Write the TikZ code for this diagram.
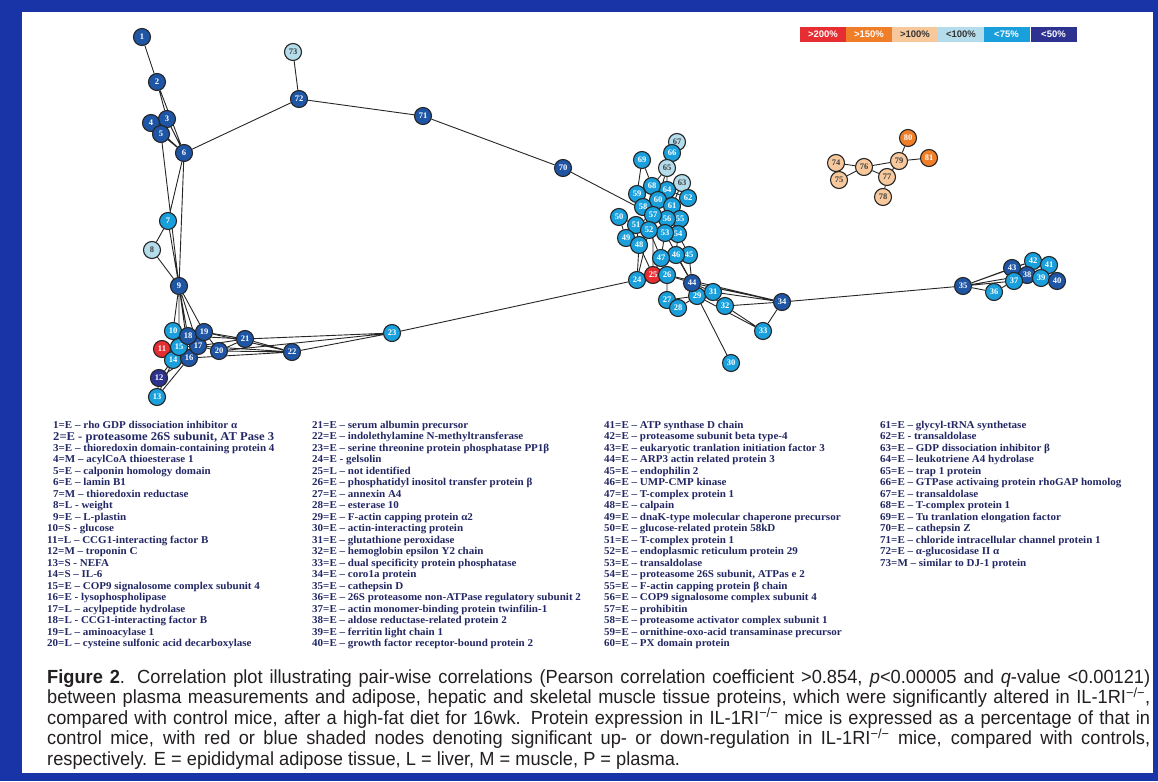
\documentclass[tikz,border=0pt]{standalone}
\usepackage{amsmath, latexsym}
\usepackage{fontspec}
\setmainfont{Liberation Serif}
\setsansfont{Liberation Sans}
\newfontfamily\capfont[FakeStretch=0.96]{Liberation Sans}
\newfontfamily\listfont[FakeStretch=1.05]{Liberation Serif}
\usepackage{tikz}
\usetikzlibrary{backgrounds}

\definecolor{frameblue}{RGB}{24,52,166}
\definecolor{pcttwohundred}{RGB}{230,45,50}
\definecolor{pctonefifty}{RGB}{240,125,40}
\definecolor{pctupper}{RGB}{246,200,155}
\definecolor{pctlower}{RGB}{180,220,235}
\definecolor{pctseventyfive}{RGB}{25,160,220}
\definecolor{pctfifty}{RGB}{45,50,145}
\definecolor{nodeblue}{RGB}{30,85,165}
\definecolor{listnavy}{RGB}{35,40,100}
\definecolor{captext}{RGB}{35,31,32}

\begin{document}
\begin{tikzpicture}[x=1pt, y=-1pt,
    prot/.style={circle, draw=black!85, line width=1.1pt, inner sep=0pt, minimum size=17pt,
        font=\fontsize{8.5}{8.5}\selectfont\bfseries, text=white},
    up200/.style={prot, fill=pcttwohundred},
    up150/.style={prot, fill=pctonefifty},
    up100/.style={prot, fill=pctupper, text=black!75},
    dn100/.style={prot, fill=pctlower, text=black!75},
    dn75/.style={prot, fill=pctseventyfive},
    dn50/.style={prot, fill=nodeblue},
    dn50navy/.style={prot, fill=pctfifty},
    link/.style={black!85, line width=0.9pt},
    legbox/.style={minimum width=46pt, minimum height=15pt, inner sep=0pt,
        font=\fontsize{9.5}{9.5}\selectfont\sffamily\bfseries, text=white},
    entry/.style={anchor=base west, inner sep=0pt,
        font=\listfont\fontsize{10.5}{10.5}\selectfont\bfseries, text=listnavy},
    capline/.style={anchor=base west, inner sep=0pt,
        font=\capfont\fontsize{19}{19}\selectfont, text=captext}]
    \useasboundingbox (0,0) rectangle (1158,781);

    \node[legbox, fill=pcttwohundred] (l1) at (823, 34.5) {>200\%};
    \node[legbox, fill=pctonefifty] (l2) at (869, 34.5) {>150\%};
    \node[legbox, fill=pctupper, text=black!80] (l3) at (915, 34.5) {>100\%};
    \node[legbox, fill=pctlower, text=black!80] (l4) at (961, 34.5) {<100\%};
    \node[legbox, fill=pctseventyfive] (l5) at (1006.5, 34.5) {<75\%};
    \node[legbox, fill=pctfifty] (l6) at (1053.5, 34.5) {<50\%};

    \node[dn50] (n1) at (142, 37) {1};
    \node[dn50] (n2) at (157, 82) {2};
    \node[dn50] (n3) at (167, 119) {3};
    \node[dn50] (n4) at (151, 123) {4};
    \node[dn50] (n5) at (161, 134) {5};
    \node[dn50] (n6) at (184, 153) {6};
    \node[dn75] (n7) at (168, 221) {7};
    \node[dn100] (n8) at (152, 250) {8};
    \node[dn50] (n9) at (179, 286) {9};
    \node[dn75] (n10) at (173, 331) {10};
    \node[up200] (n11) at (162, 349) {11};
    \node[dn50navy] (n12) at (159, 378) {12};
    \node[dn75] (n13) at (157, 397) {13};
    \node[dn75] (n14) at (173, 360) {14};
    \node[dn50] (n16) at (189, 358) {16};
    \node[dn75] (n15) at (179, 347) {15};
    \node[dn50] (n17) at (198, 346) {17};
    \node[dn50] (n18) at (188, 336) {18};
    \node[dn50] (n19) at (204, 332) {19};
    \node[dn50] (n20) at (219, 351) {20};
    \node[dn50] (n21) at (245, 339) {21};
    \node[dn50] (n22) at (292, 352) {22};
    \node[dn75] (n23) at (392, 333) {23};
    \node[dn75] (n24) at (637, 280) {24};
    \node[up200] (n25) at (653, 275) {25};
    \node[dn75] (n26) at (667, 275) {26};
    \node[dn75] (n27) at (667, 300) {27};
    \node[dn75] (n28) at (678, 308) {28};
    \node[dn75] (n29) at (697, 296) {29};
    \node[dn75] (n30) at (731, 363) {30};
    \node[dn75] (n31) at (713, 292) {31};
    \node[dn75] (n32) at (725, 306) {32};
    \node[dn75] (n33) at (763, 331) {33};
    \node[dn50] (n34) at (782, 302) {34};
    \node[dn50] (n35) at (963, 286) {35};
    \node[dn75] (n36) at (994, 292) {36};
    \node[dn50] (n43) at (1012, 268) {43};
    \node[dn75] (n42) at (1033, 261) {42};
    \node[dn75] (n41) at (1049, 265) {41};
    \node[dn50] (n38) at (1027, 275) {38};
    \node[dn75] (n37) at (1014, 281) {37};
    \node[dn75] (n39) at (1041, 278) {39};
    \node[dn50] (n40) at (1057, 281) {40};
    \node[dn100] (n67) at (677, 142) {67};
    \node[dn75] (n66) at (672, 153) {66};
    \node[dn75] (n69) at (642, 160) {69};
    \node[dn100] (n65) at (667, 168) {65};
    \node[dn100] (n63) at (682, 183) {63};
    \node[dn75] (n62) at (688, 198) {62};
    \node[dn75] (n64) at (667, 190) {64};
    \node[dn75] (n68) at (652, 186) {68};
    \node[dn75] (n59) at (637, 194) {59};
    \node[dn75] (n60) at (658, 200) {60};
    \node[dn75] (n61) at (672, 206) {61};
    \node[dn75] (n58) at (643, 207) {58};
    \node[dn75] (n55) at (680, 219) {55};
    \node[dn75] (n56) at (667, 219) {56};
    \node[dn75] (n57) at (653, 215) {57};
    \node[dn75] (n50) at (619, 217) {50};
    \node[dn75] (n51) at (636, 225) {51};
    \node[dn75] (n54) at (678, 234) {54};
    \node[dn75] (n53) at (665, 233) {53};
    \node[dn75] (n52) at (649, 230) {52};
    \node[dn75] (n49) at (626, 238) {49};
    \node[dn75] (n48) at (639, 245) {48};
    \node[dn75] (n45) at (689, 255) {45};
    \node[dn75] (n46) at (676, 255) {46};
    \node[dn75] (n47) at (661, 258) {47};
    \node[dn50] (n44) at (692, 283) {44};
    \node[dn50] (n70) at (563, 168) {70};
    \node[dn50] (n71) at (423, 116) {71};
    \node[dn50] (n72) at (299, 99) {72};
    \node[dn100] (n73) at (293, 52) {73};
    \node[up100] (n74) at (836, 163) {74};
    \node[up100] (n75) at (839, 180) {75};
    \node[up100] (n76) at (864, 167) {76};
    \node[up100] (n77) at (887, 177) {77};
    \node[up100] (n78) at (883, 197) {78};
    \node[up100] (n79) at (899, 161) {79};
    \node[up150] (n80) at (908, 138) {80};
    \node[up150] (n81) at (929, 158) {81};

    \begin{pgfonlayer}{background}
    \fill[frameblue] (0,0) rectangle (1158,781);
    \fill[white] (22,12) rectangle (1153,773);
    \draw[link] (n1) -- (n2) (n2) -- (n6) (n2) -- (n3) (n3) -- (n6) (n4) -- (n6) (n5) -- (n6);
    \draw[link] (n6) -- (n72) (n72) -- (n73) (n72) -- (n71) (n71) -- (n70) (n70) -- (n57);
    \draw[link] (n6) -- (n7) (n6) -- (n9) (n5) -- (n9) (n7) -- (n9) (n8) -- (n9) (n7) -- (n8);
    \draw[link] (n9) -- (n10) (n9) -- (n18) (n9) -- (n15) (n9) -- (n17) (n9) -- (n19) (n9) -- (n16);
    \draw[link] (n10) -- (n18) (n10) -- (n15) (n11) -- (n15) (n11) -- (n14) (n14) -- (n15) (n15) -- (n18);
    \draw[link] (n15) -- (n17) (n18) -- (n19) (n17) -- (n19) (n16) -- (n17) (n14) -- (n16) (n17) -- (n20) (n19) -- (n20);
    \draw[link] (n18) -- (n21) (n19) -- (n21) (n17) -- (n21) (n20) -- (n21);
    \draw[link] (n19) -- (n22) (n17) -- (n22) (n20) -- (n22) (n16) -- (n22) (n21) -- (n22);
    \draw[link] (n21) -- (n23) (n20) -- (n23) (n22) -- (n23) (n23) -- (n24);
    \draw[link] (n14) -- (n12) (n16) -- (n12) (n14) -- (n13) (n16) -- (n13) (n12) -- (n13);
    \draw[link] (n67) -- (n66) (n66) -- (n65) (n65) -- (n64) (n65) -- (n68) (n65) -- (n60) (n69) -- (n68);
    \draw[link] (n69) -- (n59) (n68) -- (n59) (n68) -- (n64) (n68) -- (n60) (n63) -- (n64) (n63) -- (n61);
    \draw[link] (n62) -- (n61) (n62) -- (n64) (n59) -- (n58) (n58) -- (n57) (n58) -- (n60) (n60) -- (n57);
    \draw[link] (n60) -- (n61) (n61) -- (n56) (n61) -- (n55) (n64) -- (n56) (n57) -- (n56) (n56) -- (n55);
    \draw[link] (n57) -- (n52) (n57) -- (n51) (n51) -- (n52) (n52) -- (n53) (n53) -- (n54) (n55) -- (n54);
    \draw[link] (n56) -- (n53) (n50) -- (n51) (n50) -- (n49) (n49) -- (n48) (n51) -- (n48) (n52) -- (n48);
    \draw[link] (n52) -- (n47) (n53) -- (n47) (n54) -- (n46) (n54) -- (n45) (n46) -- (n47) (n45) -- (n46);
    \draw[link] (n48) -- (n24) (n48) -- (n25) (n47) -- (n25) (n47) -- (n26) (n46) -- (n44) (n45) -- (n44);
    \draw[link] (n53) -- (n44) (n24) -- (n25) (n25) -- (n26) (n26) -- (n44) (n26) -- (n27) (n27) -- (n28);
    \draw[link] (n27) -- (n29) (n28) -- (n29) (n44) -- (n29) (n44) -- (n31) (n29) -- (n31) (n31) -- (n32);
    \draw[link] (n29) -- (n30) (n44) -- (n32) (n24) -- (n52) (n25) -- (n57);
    \draw[link] (n26) -- (n34) (n44) -- (n34) (n31) -- (n34) (n32) -- (n34) (n29) -- (n33) (n32) -- (n33) (n33) -- (n34);
    \draw[link] (n34) -- (n35);
    \draw[link] (n35) -- (n43) (n35) -- (n37) (n35) -- (n38) (n35) -- (n36) (n35) -- (n42) (n43) -- (n42);
    \draw[link] (n43) -- (n38) (n43) -- (n37) (n42) -- (n41) (n42) -- (n38) (n38) -- (n39) (n39) -- (n40);
    \draw[link] (n41) -- (n40) (n41) -- (n39) (n37) -- (n38) (n36) -- (n37) (n37) -- (n39);
    \draw[link] (n74) -- (n76) (n75) -- (n76) (n74) -- (n75) (n76) -- (n79) (n76) -- (n77);
    \draw[link] (n77) -- (n79) (n77) -- (n78) (n79) -- (n80) (n79) -- (n81);
    \end{pgfonlayer}

    \node[entry] (e1) at (53, 428) {1=E – rho GDP dissociation inhibitor α};
    \node[entry, font=\listfont\fontsize{12}{12}\selectfont\bfseries] (e2) at (53, 440) {2=E - proteasome 26S subunit, AT Pase 3};
    \node[entry] (e3) at (53, 451) {3=E – thioredoxin domain-containing protein 4};
    \node[entry] (e4) at (53, 462.5) {4=M – acylCoA thioesterase 1};
    \node[entry] (e5) at (53, 474) {5=E – calponin homology domain};
    \node[entry] (e6) at (53, 485.5) {6=E – lamin B1};
    \node[entry] (e7) at (53, 497) {7=M – thioredoxin reductase};
    \node[entry] (e8) at (53, 508.5) {8=L - weight};
    \node[entry] (e9) at (53, 520) {9=E – L-plastin};
    \node[entry] (e10) at (47, 531.5) {10=S - glucose};
    \node[entry] (e11) at (47, 543) {11=L – CCG1-interacting factor B};
    \node[entry] (e12) at (47, 554.5) {12=M – troponin C};
    \node[entry] (e13) at (47, 566) {13=S - NEFA};
    \node[entry] (e14) at (47, 577.5) {14=S – IL-6};
    \node[entry] (e15) at (47, 589) {15=E – COP9 signalosome complex subunit 4};
    \node[entry] (e16) at (47, 600.5) {16=E - lysophospholipase};
    \node[entry] (e17) at (47, 612) {17=L – acylpeptide hydrolase};
    \node[entry] (e18) at (47, 623.5) {18=L - CCG1-interacting factor B};
    \node[entry] (e19) at (47, 635) {19=L – aminoacylase 1};
    \node[entry] (e20) at (47, 646.5) {20=L – cysteine sulfonic acid decarboxylase};

    \node[entry] (e21) at (312, 428) {21=E – serum albumin precursor};
    \node[entry] (e22) at (312, 439.5) {22=E – indolethylamine N-methyltransferase};
    \node[entry] (e23) at (312, 451) {23=E – serine threonine protein phosphatase PP1β};
    \node[entry] (e24) at (312, 462.5) {24=E - gelsolin};
    \node[entry] (e25) at (312, 474) {25=L – not identified};
    \node[entry] (e26) at (312, 485.5) {26=E – phosphatidyl inositol transfer protein β};
    \node[entry] (e27) at (312, 497) {27=E – annexin A4};
    \node[entry] (e28) at (312, 508.5) {28=E – esterase 10};
    \node[entry] (e29) at (312, 520) {29=E – F-actin capping protein α2};
    \node[entry] (e30) at (312, 531.5) {30=E – actin-interacting protein};
    \node[entry] (e31) at (312, 543) {31=E – glutathione peroxidase};
    \node[entry] (e32) at (312, 554.5) {32=E – hemoglobin epsilon Y2 chain};
    \node[entry] (e33) at (312, 566) {33=E – dual specificity protein phosphatase};
    \node[entry] (e34) at (312, 577.5) {34=E – coro1a protein};
    \node[entry] (e35) at (312, 589) {35=E – cathepsin D};
    \node[entry] (e36) at (312, 600.5) {36=E – 26S proteasome non-ATPase regulatory subunit 2};
    \node[entry] (e37) at (312, 612) {37=E – actin monomer-binding protein twinfilin-1};
    \node[entry] (e38) at (312, 623.5) {38=E – aldose reductase-related protein 2};
    \node[entry] (e39) at (312, 635) {39=E – ferritin light chain 1};
    \node[entry] (e40) at (312, 646.5) {40=E – growth factor receptor-bound protein 2};

    \node[entry] (e41) at (604, 428) {41=E – ATP synthase D chain};
    \node[entry] (e42) at (604, 439.5) {42=E – proteasome subunit beta type-4};
    \node[entry] (e43) at (604, 451) {43=E – eukaryotic tranlation initiation factor 3};
    \node[entry] (e44) at (604, 462.5) {44=E – ARP3 actin related protein 3};
    \node[entry] (e45) at (604, 474) {45=E – endophilin 2};
    \node[entry] (e46) at (604, 485.5) {46=E – UMP-CMP kinase};
    \node[entry] (e47) at (604, 497) {47=E – T-complex protein 1};
    \node[entry] (e48) at (604, 508.5) {48=E – calpain};
    \node[entry] (e49) at (604, 520) {49=E – dnaK-type molecular chaperone precursor};
    \node[entry] (e50) at (604, 531.5) {50=E – glucose-related protein 58kD};
    \node[entry] (e51) at (604, 543) {51=E – T-complex protein 1};
    \node[entry] (e52) at (604, 554.5) {52=E – endoplasmic reticulum protein 29};
    \node[entry] (e53) at (604, 566) {53=E – transaldolase};
    \node[entry] (e54) at (604, 577.5) {54=E – proteasome 26S subunit, ATPas e 2};
    \node[entry] (e55) at (604, 589) {55=E – F-actin capping protein β chain};
    \node[entry] (e56) at (604, 600.5) {56=E – COP9 signalosome complex subunit 4};
    \node[entry] (e57) at (604, 612) {57=E – prohibitin};
    \node[entry] (e58) at (604, 623.5) {58=E – proteasome activator complex subunit 1};
    \node[entry] (e59) at (604, 635) {59=E – ornithine-oxo-acid transaminase precursor};
    \node[entry] (e60) at (604, 646.5) {60=E – PX domain protein};

    \node[entry] (e61) at (880, 428) {61=E – glycyl-tRNA synthetase};
    \node[entry] (e62) at (880, 439.5) {62=E - transaldolase};
    \node[entry] (e63) at (880, 451) {63=E – GDP dissociation inhibitor β};
    \node[entry] (e64) at (880, 462.5) {64=E – leukotriene A4 hydrolase};
    \node[entry] (e65) at (880, 474) {65=E – trap 1 protein};
    \node[entry] (e66) at (880, 485.5) {66=E – GTPase activaing protein rhoGAP homolog};
    \node[entry] (e67) at (880, 497) {67=E – transaldolase};
    \node[entry] (e68) at (880, 508.5) {68=E – T-complex protein 1};
    \node[entry] (e69) at (880, 520) {69=E – Tu tranlation elongation factor};
    \node[entry] (e70) at (880, 531.5) {70=E – cathepsin Z};
    \node[entry] (e71) at (880, 543) {71=E – chloride intracellular channel protein 1};
    \node[entry] (e72) at (880, 554.5) {72=E – α-glucosidase II α};
    \node[entry] (e73) at (880, 566) {73=M – similar to DJ-1 protein};

    \node[capline] (c1) at (47, 683) {\makebox[1103pt][s]{\textbf{Figure 2}. Correlation plot illustrating pair-wise correlations (Pearson correlation coefficient >0.854, \textit{p}<0.00005 and \textit{q}-value <0.00121)}};
    \node[capline] (c2) at (47, 703.5) {\makebox[1103pt][s]{between plasma measurements and adipose, hepatic and skeletal muscle tissue proteins, which were significantly altered in IL-1RI\textsuperscript{−/−},}};
    \node[capline] (c3) at (47, 724) {\makebox[1103pt][s]{compared with control mice, after a high-fat diet for 16wk. Protein expression in IL-1RI\textsuperscript{−/−} mice is expressed as a percentage of that in}};
    \node[capline] (c4) at (47, 744.5) {\makebox[1103pt][s]{control mice, with red or blue shaded nodes denoting significant up- or down-regulation in IL-1RI\textsuperscript{−/−} mice, compared with controls,}};
    \node[capline] (c5) at (47, 765) {respectively. E = epididymal adipose tissue, L = liver, M = muscle, P = plasma.};
\end{tikzpicture}
\end{document}
